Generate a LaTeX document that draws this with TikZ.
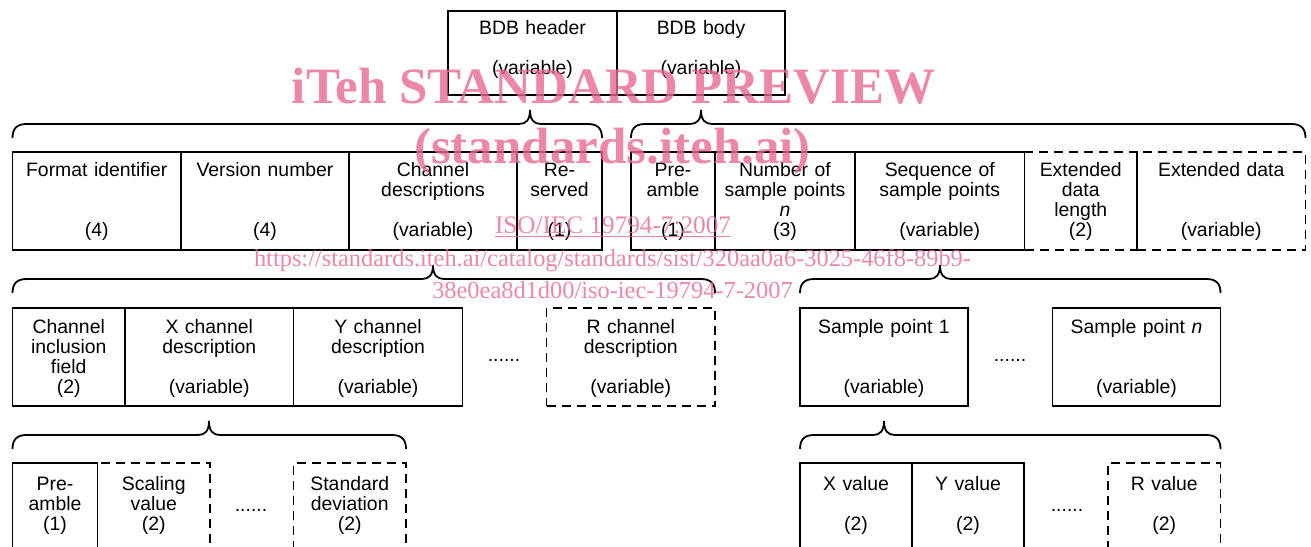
\documentclass[tikz,border=0pt]{standalone}
\usepackage{fontspec}
\setmainfont{Liberation Sans}
\newfontfamily\wmfont{Liberation Serif}
\usetikzlibrary{fit}
\definecolor{wmpink}{RGB}{231,106,144}

% vertical distance from a field's top edge to its first baseline
\newcommand\rowoff{24}

% \field[style]{name}{x0}{y0}{x1}{y1}{text}
\newcommand\field[7][]{%
  \node[box,#1,fit={(#3,#4) (#5,#6)}] (#2) {};
  \node[fieldtext] (#2-t) at ({(#3+#5)/2},{#4+\rowoff}) {#7};}

% \curly{left x}{right x}{tip x}{bar y}: a brace opening downwards
\newcommand\curly[4]{%
  \draw[brace] (#1,#4+14) .. controls (#1,#4+5) and (#1+4,#4) .. (#1+14,#4)
    -- (#3-11,#4) .. controls (#3-4,#4) and (#3,#4-4) .. (#3,#4-14)
    .. controls (#3,#4-4) and (#3+4,#4) .. (#3+11,#4)
    -- (#2-14,#4) .. controls (#2-4,#4) and (#2,#4+5) .. (#2,#4+14);}

\tikzset{
  box/.style={draw, line width=0.9pt, inner sep=0pt, outer sep=0pt},
  opt/.style={dash pattern=on 4.5pt off 3pt},
  fieldtext/.style={anchor=base, inner sep=0pt, text width=3cm, align=center,
    font=\fontsize{9.7pt}{10pt}\selectfont},
  dots/.style={anchor=base, inner sep=0pt, font=\fontsize{9.7pt}{10pt}\selectfont},
  brace/.style={line width=0.9pt},
  wm/.style={anchor=base, inner sep=0pt, text=wmpink, text opacity=0.8},
}

\begin{document}
\begin{tikzpicture}[x=0.5pt,y=-0.5pt]
\useasboundingbox (0,0) rectangle (1311,546);
\clip (0,0) rectangle (1311,546);

% --- BDB
\renewcommand\rowoff{23}
\field{hdr}{448}{11}{617}{95}{BDB header\\\mbox{}\\(variable)}
\field{body}{617}{11}{785}{95}{BDB body\\\mbox{}\\(variable)}

\curly{12.5}{602}{530}{124}
\curly{631}{1305.5}{701}{124}

% --- header and body fields
\renewcommand\rowoff{24.5}
\field{fmt}{12.5}{152}{181}{250}{Format identifier\\\mbox{}\\\mbox{}\\(4)}
\field{ver}{181}{152}{349}{250}{Version number\\\mbox{}\\\mbox{}\\(4)}
\field{chd}{349}{152}{517}{250}{Channel\\descriptions\\\mbox{}\\(variable)}
\field{res}{517}{152}{602}{250}{Re-\\served\\\mbox{}\\(1)}
\field{pre}{631}{152}{715}{250}{Pre-\\amble\\\mbox{}\\(1)}
\field{nsp}{715}{152}{855}{250}{Number of\\sample points\\\textit{n}\\(3)}
\field{seq}{855}{152}{1024.5}{250}{Sequence of\\sample points\\\mbox{}\\(variable)}
\field[opt]{exl}{1024.5}{152}{1137}{250}{Extended\\data\\length\\(2)}
\field[opt]{exd}{1137}{152}{1305.5}{250}{Extended data\\\mbox{}\\\mbox{}\\(variable)}

\curly{12.5}{715}{433}{279}
\curly{800}{1220.5}{940}{279}

% --- channel descriptions and sample points
\renewcommand\rowoff{25}
\field{cif}{12.5}{308}{125}{406}{Channel\\inclusion\\field\\(2)}
\field{xcd}{125}{308}{293.5}{406}{X channel\\description\\\mbox{}\\(variable)}
\field{ycd}{293.5}{308}{462.5}{406}{Y channel\\description\\\mbox{}\\(variable)}
\node[dots] (dots1) at (504,361.5) {......};
\field[opt]{rcd}{546.5}{308}{715}{406}{R channel\\description\\\mbox{}\\(variable)}
\field{sp1}{800}{308}{968}{406}{Sample point 1\\\mbox{}\\\mbox{}\\(variable)}
\node[dots] (dots2) at (1010,361.5) {......};
\field{spn}{1052.5}{308}{1220.5}{406}{Sample point \textit{n}\\\mbox{}\\\mbox{}\\(variable)}

\curly{12.5}{406}{209}{435}
\curly{800}{1220.5}{884}{435}

% --- channel description and sample point contents
\renewcommand\rowoff{27}
\field{cpre}{12.5}{463}{97.5}{580}{Pre-\\amble\\(1)}
\field[opt]{scl}{97.5}{463}{210}{580}{Scaling\\value\\(2)}
\node[dots] (dots3) at (251,511) {......};
\field[opt]{std}{293.5}{463}{406}{580}{Standard\\deviation\\(2)}
\field{xv}{800}{463}{912}{580}{X value\\\mbox{}\\(2)}
\field{yv}{912}{463}{1024}{580}{Y value\\\mbox{}\\(2)}
\node[dots] (dots4) at (1067,511) {......};
\field[opt]{rv}{1108}{463}{1220.5}{580}{R value\\\mbox{}\\(2)}

% --- overprinted notice
\node[wm, font=\wmfont\bfseries\fontsize{25.5pt}{30pt}\selectfont] (wm1) at (613.5,103) {iTeh STANDARD PREVIEW};
\node[wm, font=\wmfont\bfseries\fontsize{25.5pt}{30pt}\selectfont] (wm2) at (612.5,163) {(standards.iteh.ai)};
\node[wm, font=\wmfont\fontsize{12.6pt}{14pt}\selectfont] (wm3) at (613,233) {\underline{ISO/IEC 19794-7:2007}};
\node[wm, font=\wmfont\fontsize{12.2pt}{14pt}\selectfont] (wm4) at (612.5,266) {https://standards.iteh.ai/catalog/standards/sist/320aa0a6-3025-46f8-89b9-};
\node[wm, font=\wmfont\fontsize{12.2pt}{14pt}\selectfont] (wm5) at (612.5,298) {38e0ea8d1d00/iso-iec-19794-7-2007};
\end{tikzpicture}
\end{document}
